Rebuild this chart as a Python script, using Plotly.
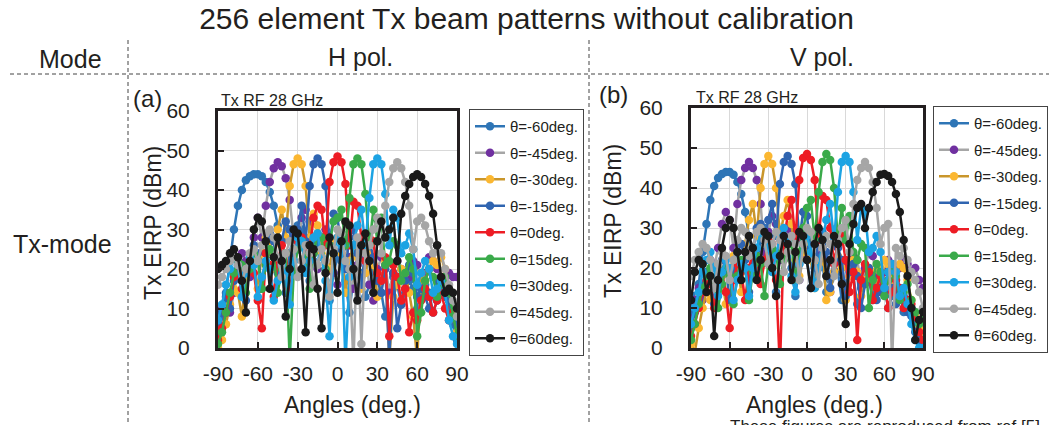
import plotly.graph_objects as go

# ---------------- data ----------------
angles = [-90, -87, -84, -81, -78, -75, -72, -69, -66, -63,
          -60, -57, -54, -51, -48, -45, -42, -39, -36, -33,
          -30, -27, -24, -21, -18, -15, -12, -9, -6, -3,
          0, 3, 6, 9, 12, 15, 18, 21, 24, 27,
          30, 33, 36, 39, 42, 45, 48, 51, 54, 57,
          60, 63, 66, 69, 72, 75, 78, 81, 84, 87,
          90]

series_names = ["θ=-60deg.", "θ=-45deg.", "θ=-30deg.", "θ=-15deg.", "θ=0deg.",
                "θ=15deg.", "θ=30deg.", "θ=45deg.", "θ=60deg."]

# H pol. (panel a)
h_m60 = [3, 8, 14, 22, 30, 36, 40, 42.5, 43.5, 44,
         44, 43.5, 42, 39.5, 36, 31, 22, 14, 24, 29,
         31, 30, 26, 17, 22, 27, 26, 20, 12, 19,
         23, 22, 17, 9, 18, 21, 19, 13, 16, 20,
         19, 14, 8, 15, 18, 16, 11, 14, 17, 15,
         10, 13, 16, 14, 9, 12, 15, 13, 10, 6,
         2]
h_m45 = [6, 10, 12, 9, 14, 20, 24, 22, 18, 28,
         33, 28, 36, 42, 45.5, 47, 46, 43, 37.5, 28,
         25, 33, 35, 32, 24, 20, 28, 30, 27, 19,
         16, 24, 26, 23, 15, 21, 25, 23, 16, 12,
         20, 23, 21, 14, 19, 22, 20, 15, 18, 22,
         21, 17, 19, 23, 22, 20, 18, 17, 19, 18,
         18]
h_m30 = [0, 2, 6, 11, 15, 14, 8, 18, 23, 21,
         15, 24, 28, 27, 20, 30, 35, 28, 41, 46.5,
         48, 46.5, 41, 28, 34, 31, 24, 22, 20, 27,
         28, 24, 14, 22, 26, 23, 15, 19, 24, 21,
         13, 17, 22, -3, 13, 16, 20, 19, 14, 8,
         -3, 19, 17, 20, 22, 21, 23, 20, 14, 8,
         4]
h_m15 = [4, 9, 13, 10, 17, 21, 18, 12, 22, 26,
         24, 15, 24, 29, 27, 19, 27, 32, 30, 22,
         30, 36, 27, 41, 46.5, 48, 46.5, 41, 26, 34,
         33, 25, 20, 28, 30, 24, 16, 25, 27, 23,
         17, 14, 20, -3, 19, 5, 11, 17, 21, 19,
         13, 15, 13, 10, 14, 17, 16, 13, 12, 9,
         6]
h_0 = [2, 5, 9, 13, 18, 19, 15, 20, 22, 19,
       12, 5, 24, 21, 13, 22, 26, 24, 15, 20,
       27, 28, 22, 25, 33, 36, 35, 26, 42, 47,
       48.5, 47, 41.5, 26, 37, 36, 28, 22, 28, 27,
       19, 17, 23, 3, 21, 18, 12, 15, 4, 9,
       7, 12, 15, 13, 9, 12, 14, 10, 7, 9,
       11]
h_15 = [1, 4, 9, 14, 19, 22, 21, 14, 20, 24,
        22, 15, 21, 25, 23, 14, 20, 24, -3, 19,
        25, 27, 23, 15, 24, 29, 28, 20, 26, 32,
        33, 35, 26, 38, 46.5, 48, 46.5, 39, 26, 35,
        27, 33, 21, 22, 27, 26, 17, 19, 23, 20,
        3, 9, 17, 20, 18, 13, 16, 18, 14, 8,
        3]
h_30 = [7, 11, 16, 20, 23, 21, 13, 19, 23, 21,
        13, 18, 22, 20, 12, 17, 21, 19, 11, 22,
        28, 27, 19, 22, 28, 29, 23, 17, 3, 24,
        28, 26, -4, 18, 26, 31, 35, 26, 38, 46.5,
        48, 46.5, 39, 26, 35, 33, 24, 26, 29, 25,
        16, 19, 22, 20, 14, 15, 17, 14, 7, 3,
        1]
h_45 = [16, 18, 20, 22, 23, 21, 17, 20, 24, 25,
        22, 26, 29, 30, 28, 23, 18, 24, 27, 25,
        18, 22, 26, 24, 16, 21, 25, 22, 13, 25,
        30, 29, 22, 20, -4, 28, 1, 24, 26, 30,
        33, 24, 36, 42, 45.5, 47, 45.5, 42, 36, 25,
        32, 33, 31, 27, 24, 26, 24, 20, 16, 12,
        8]
h_60 = [20, 21, 22, 24, 25, 23, 17, 9, 22, 30,
        33, 32, 27, 15, 23, 28, 22, 8, 20, 30,
        29, 20, 4, 26, 25, 15, 5, 19, 28, 24,
        14, 27, 32, 31, 20, 12, 26, 29, 22, 14,
        27, 32, 28, 30, 33, 22, 34, 38.5, 41.5, 43.3,
        44, 43.3, 41.5, 38.5, 34, 26, 18, 14, 15, 14,
        10]

# V pol. (panel b)
v_m60 = [10, 13, 16, 24, 31, 37, 40.5, 42.5, 43.5, 44,
         44, 43.3, 41.5, 38.5, 34, 28, 18, 21, 27, 30,
         29, 24, 14, 23, 28, 27, 20, 13, 21, 24,
         22, 15, 19, 23, 21, 14, 17, 21, 19, 12,
         16, 20, 18, 11, 15, 19, 17, 12, 14, 17,
         15, 10, 13, 16, 14, 9, 12, 10, 7, 3,
         1]
v_m45 = [8, 12, 15, 12, 18, 22, 20, 25, 31, 34,
         32, 25, 36, 42, 45, 46.5, 45, 42, 36, 24,
         29, 33, 31, 22, 25, 30, 29, 21, 17, 23,
         26, 24, 16, 20, 24, 22, 14, 19, 22, 21,
         14, 18, 23, 22, 16, 20, 24, 23, 18, 14,
         19, 22, 21, 17, 20, 22, 21, 19, 20, 17,
         15]
v_m30 = [1, -1, 5, 10, 14, 12, 17, 20, 18, 11,
         19, 23, 21, 14, 26, 32, 36, 28, 40, 46,
         48, 46, 40, 28, 33, 37, 31, 22, 18, 24,
         26, 22, 15, 21, 25, 12, 14, 19, 23, 20,
         12, 18, 22, 19, 13, 17, 20, 19, 15, 20,
         22, 21, 17, 19, 21, 20, 17, 12, 8, 5,
         3]
v_m15 = [5, 9, 12, 16, 19, 17, 11, 18, 22, 20,
         12, 19, 24, 26, 22, 14, 24, 30, 31, 27,
         32, 36, 28, 41, 46.5, 48, 46, 41, 27, 34,
         33, 25, 20, 27, 29, 24, 15, 22, 25, 22,
         13, 19, 21, 18, 10, 16, 20, 18, 12, 15,
         14, 17, 15, 11, 14, 13, 9, 8, 4, 2,
         2]
v_0 = [3, 6, 10, 14, 17, 16, 10, 17, 19, 14,
       5, 17, 21, 19, 12, 20, 24, 23, 16, 22,
       27, 26, 17, -5, 27, 33, 37, 27, 42, 47.5,
       48.5, 47, 42, 27, 38, 37, 30, 21, 27, 28,
       22, 14, 19, 2, 17, 21, 19, 12, 15, 18,
       16, 10, 14, 17, 15, 10, 12, 11, 7, 4,
       2]
v_15 = [2, 6, 11, 15, 18, 20, 17, 10, 16, 20,
        18, 11, 18, 22, 20, 12, 19, 23, 21, 13,
        21, 25, 24, 16, 22, 27, 26, 17, 24, 30,
        35, 37, 27, 39, 46.5, 48.5, 47, 40, 27, 35,
        27, 33, 24, 22, 26, 25, 10, 17, 21, 19,
        13, 17, 20, 18, 12, 14, 16, 12, 9, 6,
        7]
v_30 = [6, 10, 14, 19, 22, 24, 20, 13, 19, 22,
        20, 12, 17, 21, 20, 13, 20, 25, 29, 28,
        25, 19, 23, 28, 30, 27, 18, 14, 21, 26,
        28, 24, 15, 20, 27, 32, 36, 27, 39, 46.5,
        48, 46.5, 39, 27, 35, 34, 24, 25, 28, 24,
        15, 19, 21, 19, 13, 15, 11, 6, 2, 0,
        0]
v_45 = [18, 22, 24, 26, 25, 22, 15, 21, 24, 23,
        17, 22, 27, 30, 29, 23, 25, 29, 30, 27,
        21, 26, 29, 27, 19, 24, 28, 26, 17, 26,
        30, 29, 22, 16, 25, 28, 26, 18, 27, 30,
        32, 24, 36, 42, 45, 46.5, 45, 41.5, 35, 26,
        30, 31, -4, 25, 23, 25, 22, 19, 17, 14,
        10]
v_60 = [12, 19, 22, 21, 14, 18, 3, 17, 25, 30,
        32, 30, 24, 17, 24, 28, 25, 17, 22, 29,
        28, 20, 13, 23, 28, 26, 17, 24, 29, 28,
        22, 15, 26, 30, 27, 18, 22, 28, 26, 16,
        6, 26, 31, 35, 36, 30, 35, 39, 41.5, 43.3,
        43.5, 43, 41.5, 38.5, 34, 27, 18, 10, 2, 7,
        9]

h_series = [h_m60, h_m45, h_m30, h_m15, h_0, h_15, h_30, h_45, h_60]
v_series = [v_m60, v_m45, v_m30, v_m15, v_0, v_15, v_30, v_45, v_60]
for s in h_series + v_series:
    assert len(s) == len(angles), len(s)

x_tick_vals = [-90, -60, -30, 0, 30, 60, 90]
x_tick_text = ["-90", "-60", "-30", "0", "30", "60", "90"]
y_tick_vals = [0, 10, 20, 30, 40, 50, 60]
y_tick_text = ["0", "10", "20", "30", "40", "50", "60"]

# ---------------- style ----------------
W, H = 1049, 425
FONT = "Liberation Sans, Arial, Helvetica, sans-serif"
INK = "#231f20"
line_colors = ["#2e75b6", "#a6a6a6", "#c9962b", "#2f64b0", "#ed1c24",
               "#3aaa4a", "#1ca3e3", "#a6a6a6", "#1a1a1a"]
marker_colors = ["#2e75b6", "#7030a0", "#fbb731", "#2f64b0", "#ed1c24",
                 "#3aaa4a", "#1ca3e3", "#a6a6a6", "#1a1a1a"]


def px(x):
    return x / W


def py(y):
    return 1 - y / H


fig = go.Figure()
for i, name in enumerate(series_names):
    fig.add_trace(go.Scatter(
        x=angles, y=h_series[i], mode="lines+markers", name=name,
        line=dict(color=line_colors[i], width=2.5),
        marker=dict(color=marker_colors[i], size=8.5),
        xaxis="x", yaxis="y", legend="legend", legendgroup=f"h{i}"))
for i, name in enumerate(series_names):
    fig.add_trace(go.Scatter(
        x=angles, y=v_series[i], mode="lines+markers", name=name,
        line=dict(color=line_colors[i], width=2.5),
        marker=dict(color=marker_colors[i], size=8.5),
        xaxis="x2", yaxis="y2", legend="legend2", legendgroup=f"v{i}"))


def xax(domain, anchor):
    return dict(domain=domain, anchor=anchor, range=[-90, 90],
                tickvals=x_tick_vals, ticktext=x_tick_text,
                showgrid=True, gridcolor="#d9d9d9", gridwidth=1, zeroline=False,
                showline=True, mirror=True, linecolor=INK, linewidth=3,
                ticks="inside", ticklen=6, tickwidth=2, tickcolor=INK,
                ticklabelstandoff=5,
                tickfont=dict(family=FONT, size=21, color=INK))


def yax(domain, anchor):
    return dict(domain=domain, anchor=anchor, range=[0, 60],
                tickvals=y_tick_vals, ticktext=y_tick_text,
                showgrid=True, gridcolor="#d9d9d9", gridwidth=1, zeroline=False,
                showline=True, mirror=True, linecolor=INK, linewidth=3,
                ticks="inside", ticklen=6, tickwidth=2, tickcolor=INK,
                ticklabelstandoff=21,
                tickfont=dict(family=FONT, size=21, color=INK))


legend_common = dict(xanchor="left", yanchor="top", bordercolor="#444444",
                     borderwidth=1, bgcolor="white", tracegroupgap=4,
                     itemwidth=30,
                     font=dict(family=FONT, size=15, color=INK))

fig.update_layout(
    width=W, height=H,
    margin=dict(l=0, r=0, t=0, b=0, autoexpand=False),
    paper_bgcolor="white", plot_bgcolor="white",
    font=dict(family=FONT, color=INK),
    title=dict(text="256 element Tx beam patterns without calibration",
               x=0.502, xanchor="center", yref="container", y=py(18), yanchor="middle",
               font=dict(family=FONT, size=30, color=INK)),
    xaxis=xax([px(218), px(457)], "y"),
    yaxis=yax([py(348), py(111)], "x"),
    xaxis2=xax([px(691), px(923)], "y2"),
    yaxis2=yax([py(348), py(108)], "x2"),
    legend=dict(x=px(469), y=py(109), **legend_common),
    legend2=dict(x=px(933), y=py(106), **legend_common),
)

# dashed frame lines
dash = dict(color="#444444", width=1, dash="4px,3px")
fig.add_shape(type="line", xref="paper", yref="paper",
              x0=px(10), x1=px(1049), y0=py(74), y1=py(74), line=dash)
fig.add_shape(type="line", xref="paper", yref="paper",
              x0=px(128), x1=px(128), y0=py(40), y1=py(425), line=dash)
fig.add_shape(type="line", xref="paper", yref="paper",
              x0=px(589), x1=px(589), y0=py(40), y1=py(425), line=dash)


def note(text, x, y, size, xanchor="center", yanchor="middle", angle=0):
    fig.add_annotation(text=text, xref="paper", yref="paper", x=px(x), y=py(y),
                       xanchor=xanchor, yanchor=yanchor, showarrow=False,
                       textangle=angle, font=dict(family=FONT, size=size, color=INK))


note("Mode", 70, 59, 25)
note("H pol.", 360, 57, 25)
note("V pol.", 822, 57, 25)
note("Tx-mode", 62, 244, 25)
note("(a)", 147, 98, 24)
note("(b)", 613, 95, 24)
note("Tx RF 28 GHz", 272, 100, 16)
note("Tx RF 28 GHz", 747, 97, 16)
note("Tx EIRP (dBm)", 153, 223, 23, angle=-90)
note("Tx EIRP (dBm)", 613, 221, 23, angle=-90)
note("Angles (deg.)", 352, 405, 23)
note("Angles (deg.)", 814, 405, 23)
# caption partly below the bottom edge, as in the source image
note("These figures are reproduced from ref [5]", 728, 415, 17,
     xanchor="left", yanchor="top")

fig.write_html("out.html")
